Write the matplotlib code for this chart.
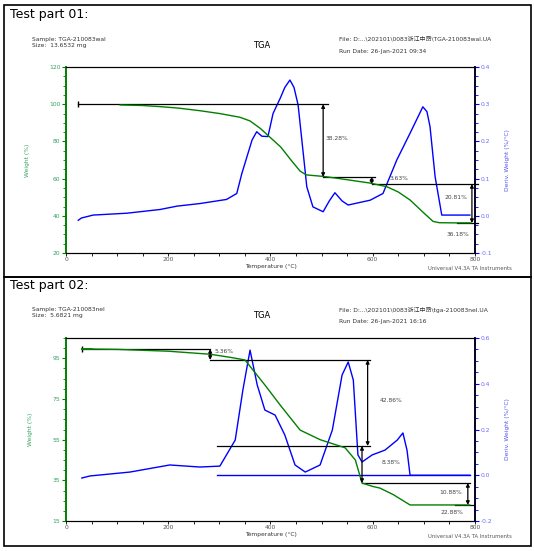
import matplotlib
matplotlib.use("Agg")
import matplotlib.pyplot as plt
from matplotlib.patches import Rectangle
from matplotlib.ticker import MultipleLocator, FormatStrFormatter

plt.rcParams['font.family'] = ['DejaVu Sans', 'Noto Sans CJK SC']

# ---- Test part 01 data ----
t1_w = [106, 150, 184, 220, 262, 300, 340, 360, 380, 400, 420, 440, 458, 470, 490,
        503, 530, 560, 595, 628, 650, 673, 700, 718, 730, 760, 792]
w1 = [99.6, 99.3, 98.7, 97.9, 96.5, 95.0, 93.0, 91.0, 87.0, 82.0, 77.0, 70.0, 64.0,
      62.0, 61.5, 61.2, 60.2, 59.0, 57.6, 55.6, 52.8, 48.5, 41.5, 37.0, 36.3, 36.2, 36.2]
t1_d = [24, 30, 53, 119, 184, 217, 262, 314, 334, 344, 354, 364, 373, 383, 395, 405,
        419, 428, 438, 446, 454, 464, 471, 483, 503, 515, 526, 540, 552, 575, 595, 620,
        647, 673, 698, 706, 712, 722, 735, 760, 790]
d1 = [-0.012, -0.006, 0.002, 0.007, 0.017, 0.026, 0.033, 0.044, 0.06, 0.114, 0.159,
      0.204, 0.226, 0.214, 0.213, 0.275, 0.316, 0.345, 0.365, 0.345, 0.298, 0.169,
      0.078, 0.024, 0.011, 0.04, 0.062, 0.04, 0.029, 0.036, 0.042, 0.06, 0.15, 0.222,
      0.293, 0.28, 0.24, 0.105, 0.002, 0.002, 0.002]
steps1 = [100.0, 60.9, 57.1, 36.1]
labels1 = ['38.28%', '3.63%', '20.81%', '36.18%']

# ---- Test part 02 data ----
t2_w = [31, 100, 200, 282, 321, 350, 389, 419, 458, 497, 546, 566, 579, 600, 614,
        640, 673, 720, 790]
w2 = [99.6, 99.4, 98.5, 97.0, 95.5, 94.2, 81.9, 72.0, 59.7, 55.0, 51.0, 45.0, 33.7,
      32.0, 31.2, 28.0, 22.9, 22.9, 22.9]
t2_d = [31, 47, 125, 203, 262, 301, 331, 346, 360, 374, 389, 409, 428, 448, 468,
        497, 521, 540, 552, 562, 571, 579, 599, 624, 648, 659, 667, 673, 790]
d2 = [-0.012, -0.003, 0.014, 0.045, 0.036, 0.04, 0.154, 0.373, 0.547, 0.395, 0.285,
      0.263, 0.176, 0.045, 0.014, 0.045, 0.198, 0.438, 0.495, 0.416, 0.089, 0.058,
      0.089, 0.11, 0.154, 0.185, 0.11, 0.0, 0.0]
steps2 = [99.6, 94.2, 51.9, 33.7, 22.9]
labels2 = ['5.36%', '42.86%', '8.38%', '10.88%', '22.88%']

fig = plt.figure(figsize=(5.34, 5.51), dpi=100)

# panel frames
for y0, h in [(0.4973, 0.4936), (0.0091, 0.4882)]:
    fig.patches.append(Rectangle((0.0075, y0), 0.9869, h, transform=fig.transFigure,
                                 fill=False, edgecolor='black', linewidth=1.2))

tick_green = '#33a060'
tick_blue = '#6a6aff'
small = 4.3


def setup(ax, ax2, ylim, ymaj, ymin, dlim, dmaj, dmin):
    ax.set_xlim(0, 800)
    ax.set_ylim(*ylim)
    ax2.set_ylim(*dlim)
    ax.xaxis.set_major_locator(MultipleLocator(200))
    ax.xaxis.set_minor_locator(MultipleLocator(50))
    ax.xaxis.set_major_formatter(FormatStrFormatter('%d'))
    ax.yaxis.set_major_locator(MultipleLocator(ymaj, offset=ylim[0] % ymaj))
    ax.yaxis.set_minor_locator(MultipleLocator(ymin))
    ax.yaxis.set_major_formatter(FormatStrFormatter('%d'))
    ax2.yaxis.set_major_locator(MultipleLocator(dmaj))
    ax2.yaxis.set_minor_locator(MultipleLocator(dmin))
    ax2.yaxis.set_major_formatter(FormatStrFormatter('%.1f'))
    ax.spines['left'].set_color('green')
    ax2.spines['left'].set_color('green')
    ax2.spines['right'].set_color('blue')
    for a in (ax, ax2):
        a.spines['left'].set_linewidth(1.2)
        a.spines['right'].set_linewidth(1.2)
    ax.tick_params(axis='y', colors='green', labelcolor=tick_green, labelsize=small,
                   length=3, width=0.8, pad=1)
    ax.tick_params(axis='y', which='minor', colors='green', length=2)
    ax2.tick_params(axis='y', colors='blue', labelcolor=tick_blue, labelsize=small,
                    length=3, width=0.8, pad=1)
    ax2.tick_params(axis='y', which='minor', colors='blue', length=2)
    ax.tick_params(axis='x', labelsize=small, length=2, width=0.6, pad=1,
                   labelcolor='#555555')
    ax.tick_params(axis='x', which='minor', length=2)
    ax.set_xlabel('Temperature (°C)', fontsize=small, labelpad=1, color='#333333')
    ax.set_ylabel('Weight (%)', fontsize=small, color='#33a060', labelpad=14)
    ax2.set_ylabel('Deriv. Weight (%/°C)', fontsize=small, color='#5555ee', labelpad=9)
    ax.text(0.885, -0.085, 'Universal V4.3A TA Instruments', transform=ax.transAxes,
            fontsize=3.8, color='#555555', ha='left', va='center')


def arrow(ax, x, y0, y1):
    ax.annotate('', xy=(x, y1), xytext=(x, y0),
                arrowprops=dict(arrowstyle='<|-|>', color='black', lw=0.9,
                                mutation_scale=5, shrinkA=0, shrinkB=0))


def header(ytop, title, sample, size, fname, rundate):
    fig.text(0.019, ytop, title, fontsize=9, va='center')
    fig.text(0.06, ytop - 0.044, sample, fontsize=small, va='center', color='#333333')
    fig.text(0.06, ytop - 0.055, size, fontsize=small, va='center', color='#333333')
    fig.text(0.49, ytop - 0.055, 'TGA', fontsize=6, va='center', ha='center')
    fig.text(0.635, ytop - 0.044, fname, fontsize=small, va='center', color='#333333')
    fig.text(0.635, ytop - 0.066, rundate, fontsize=small, va='center', color='#333333')


# ================= Panel 1 =================
header(0.973, 'Test part 01:', 'Sample: TGA-210083wal', 'Size:  13.6532 mg',
       'File: D:...\\202101\\0083浙江中昂\\TGA-210083wal.UA',
       'Run Date: 26-Jan-2021 09:34')
ax = fig.add_axes([0.1236, 0.5408, 0.7659, 0.3376])
ax2 = ax.twinx()
setup(ax, ax2, (20, 120), 20, 5, (-0.1, 0.4), 0.1, 0.025)
ax2.plot(t1_d, d1, color='blue', lw=1.0)
ax.plot(t1_w, w1, color='green', lw=1.0, zorder=3)
ax.set_zorder(ax2.get_zorder() + 1)
ax.patch.set_visible(False)
ax.plot([24, 513], [steps1[0]] * 2, color='black', lw=0.9, marker='|', markevery=[0],
        markersize=5)
arrow(ax, 503, steps1[0], steps1[1])
ax.plot([503, 605], [steps1[1]] * 2, color='black', lw=0.9)
arrow(ax, 598, steps1[1], steps1[2])
ax.plot([598, 805], [steps1[2]] * 2, color='black', lw=0.9, clip_on=False)
arrow(ax, 794, steps1[2], steps1[3])
ax.plot([765, 805], [steps1[3]] * 2, color='black', lw=0.9, clip_on=False)
ax.text(507, 81.3, labels1[0], fontsize=small, va='center', color='#444444')
ax.text(633, 59.8, labels1[1], fontsize=small, va='center', color='#444444')
ax.text(786, 49.7, labels1[2], fontsize=small, va='center', ha='right', color='#444444')
ax.text(767, 30.2, labels1[3], fontsize=small, va='center', ha='center', color='#444444')

# ================= Panel 2 =================
header(0.482, 'Test part 02:', 'Sample: TGA-210083nel', 'Size:  5.6821 mg',
       'File: D:...\\202101\\0083浙江中昂\\tga-210083nel.UA',
       'Run Date: 26-Jan-2021 16:16')
bx = fig.add_axes([0.1236, 0.0544, 0.7659, 0.3322])
bx2 = bx.twinx()
setup(bx, bx2, (15, 105), 20, 5, (-0.2, 0.6), 0.2, 0.05)
bx2.plot(t2_d, d2, color='blue', lw=1.0)
bx2.plot([295, 790], [0, 0], color='blue', lw=1.0)
bx.plot(t2_w, w2, color='green', lw=1.0, zorder=3)
bx.set_zorder(bx2.get_zorder() + 1)
bx.patch.set_visible(False)
bx.plot([31, 282], [steps2[0]] * 2, color='black', lw=0.9, marker='|', markevery=[0],
        markersize=5)
bx.plot([31, 50], [steps2[0]] * 2, color='green', lw=1.2)
arrow(bx, 282, steps2[0], steps2[1])
bx.plot([282, 595], [steps2[1]] * 2, color='black', lw=0.9)
arrow(bx, 590, steps2[1], steps2[2])
bx.plot([295, 595], [steps2[2]] * 2, color='black', lw=0.9)
arrow(bx, 579, steps2[2], steps2[3])
bx.plot([579, 790], [steps2[3]] * 2, color='black', lw=0.9)
arrow(bx, 786, steps2[3], steps2[4])
bx.plot([760, 800], [steps2[4]] * 2, color='black', lw=0.9)
bx.text(290, 98.2, labels2[0], fontsize=small, va='center', color='#444444')
bx.text(614, 74.5, labels2[1], fontsize=small, va='center', color='#444444')
bx.text(618, 44.0, labels2[2], fontsize=small, va='center', color='#444444')
bx.text(775, 28.8, labels2[3], fontsize=small, va='center', ha='right', color='#444444')
bx.text(755, 19.4, labels2[4], fontsize=small, va='center', ha='center', color='#444444')

fig.savefig('out.png', dpi=100)
